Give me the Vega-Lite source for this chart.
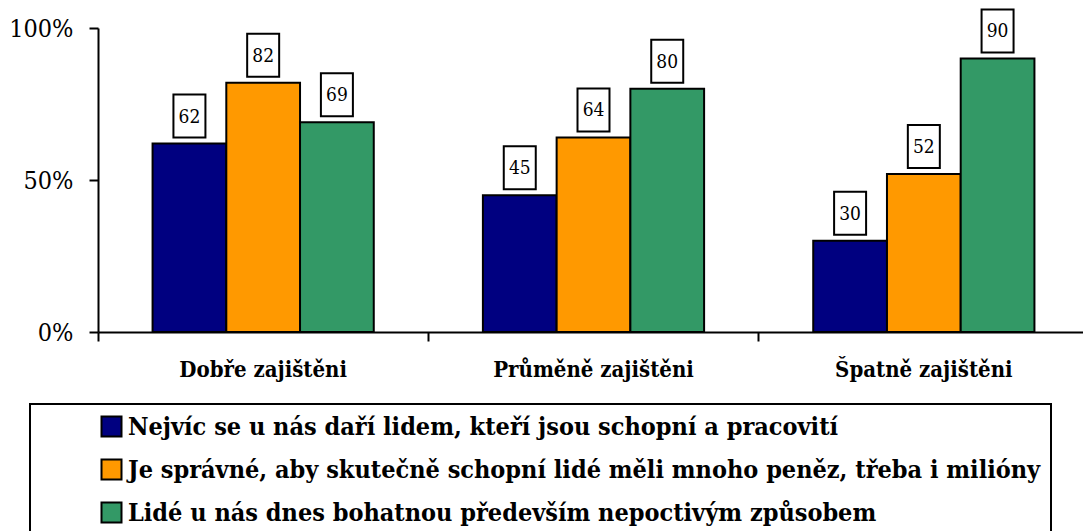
{
  "$schema": "https://vega.github.io/schema/vega-lite/v6.json",
  "width": 985,
  "height": 304,
  "autosize": "none",
  "padding": {"left": 98, "top": 28, "right": 0, "bottom": 199},
  "background": "white",
  "data": {
    "values": [
      {"group": "Dobře zajištěni", "series": "Nejvíc se u nás daří lidem, kteří jsou schopní a pracovití", "value": 62},
      {"group": "Dobře zajištěni", "series": "Je správné, aby skutečně schopní lidé měli mnoho peněz, třeba i milióny", "value": 82},
      {"group": "Dobře zajištěni", "series": "Lidé  u nás dnes bohatnou především nepoctivým způsobem", "value": 69},
      {"group": "Průměně zajištěni", "series": "Nejvíc se u nás daří lidem, kteří jsou schopní a pracovití", "value": 45},
      {"group": "Průměně zajištěni", "series": "Je správné, aby skutečně schopní lidé měli mnoho peněz, třeba i milióny", "value": 64},
      {"group": "Průměně zajištěni", "series": "Lidé  u nás dnes bohatnou především nepoctivým způsobem", "value": 80},
      {"group": "Špatně zajištěni", "series": "Nejvíc se u nás daří lidem, kteří jsou schopní a pracovití", "value": 30},
      {"group": "Špatně zajištěni", "series": "Je správné, aby skutečně schopní lidé měli mnoho peněz, třeba i milióny", "value": 52},
      {"group": "Špatně zajištěni", "series": "Lidé  u nás dnes bohatnou především nepoctivým způsobem", "value": 90}
    ]
  },
  "encoding": {
    "x": {
      "field": "group",
      "type": "nominal",
      "sort": ["Dobře zajištěni", "Průměně zajištěni", "Špatně zajištěni"],
      "scale": {"range": [0, 991], "paddingInner": 0, "paddingOuter": 0},
      "axis": {
        "title": null,
        "labelAngle": 0,
        "bandPosition": 0,
        "labelFont": "DejaVu Serif Condensed, DejaVu Serif",
        "labelFontWeight": "bold",
        "labelFontSize": 22,
        "labelColor": "black",
        "labelPadding": 18,
        "labelBaseline": "top",
        "labelLimit": 0,
        "tickSize": 9,
        "tickColor": "black",
        "tickWidth": 2,
        "domainColor": "black",
        "domainWidth": 2,
        "grid": false
      }
    },
    "xOffset": {
      "field": "series",
      "type": "nominal",
      "sort": [
        "Nejvíc se u nás daří lidem, kteří jsou schopní a pracovití",
        "Je správné, aby skutečně schopní lidé měli mnoho peněz, třeba i milióny",
        "Lidé  u nás dnes bohatnou především nepoctivým způsobem"
      ],
      "scale": {"paddingInner": 0, "paddingOuter": 0.74}
    },
    "y": {
      "field": "value",
      "type": "quantitative",
      "scale": {"domain": [0, 100], "nice": false},
      "axis": {
        "title": null,
        "values": [0, 50, 100],
        "labelExpr": "datum.value + '%'",
        "labelFont": "DejaVu Serif Condensed, DejaVu Serif",
        "labelFontSize": 25,
        "labelColor": "black",
        "labelPadding": 16,
        "tickSize": 9,
        "tickColor": "black",
        "tickWidth": 2,
        "domainColor": "black",
        "domainWidth": 2,
        "grid": false
      }
    }
  },
  "layer": [
    {
      "mark": {"type": "bar", "stroke": "black", "strokeWidth": 2},
      "encoding": {
        "color": {
          "field": "series",
          "type": "nominal",
          "sort": [
            "Nejvíc se u nás daří lidem, kteří jsou schopní a pracovití",
            "Je správné, aby skutečně schopní lidé měli mnoho peněz, třeba i milióny",
            "Lidé  u nás dnes bohatnou především nepoctivým způsobem"
          ],
          "scale": {"range": ["#000080", "#FF9900", "#339966"]},
          "legend": {
            "title": null,
            "orient": "none",
            "legendX": -68,
            "legendY": 376,
            "direction": "vertical",
            "strokeColor": "black",
            "padding": 10,
            "symbolType": "square",
            "symbolSize": 400,
            "symbolStrokeColor": "black",
            "symbolStrokeWidth": 2,
            "symbolOffset": 59,
            "labelOffset": 4,
            "labelFont": "DejaVu Serif Condensed, DejaVu Serif",
            "labelFontSize": 25,
            "labelFontWeight": "bold",
            "labelColor": "black",
            "labelLimit": 0,
            "rowPadding": 14
          }
        }
      }
    },
    {
      "mark": {
        "type": "point",
        "shape": "M-0.372,-1.14H0.372V-0.14H-0.372Z",
        "size": 7396,
        "filled": true,
        "fill": "white",
        "stroke": "black",
        "strokeWidth": 2,
        "opacity": 1
      }
    },
    {
      "mark": {
        "type": "text",
        "font": "DejaVu Serif Condensed, DejaVu Serif",
        "fontSize": 19,
        "color": "black",
        "baseline": "middle",
        "dy": -27
      },
      "encoding": {"text": {"field": "value", "type": "quantitative"}}
    }
  ],
  "config": {
    "view": {"stroke": null},
    "legend": {"strokeWidth": 2}
  }
}
